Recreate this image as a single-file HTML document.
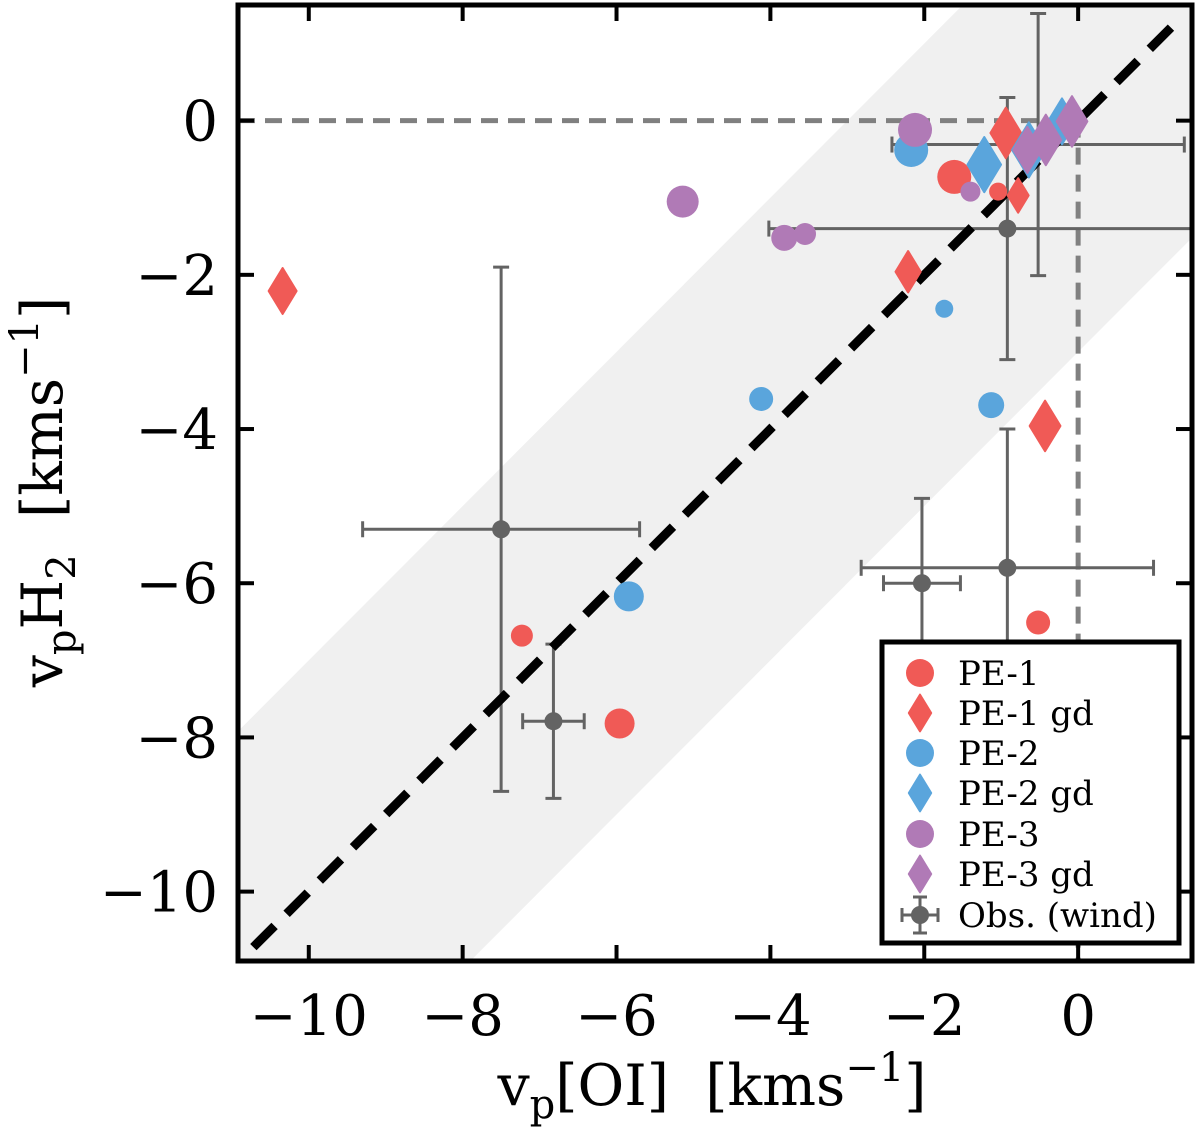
<!DOCTYPE html>
<html><head><meta charset="utf-8">
<style>
html,body{margin:0;padding:0;background:#fff;overflow:hidden;width:1200px;height:1131px;}
svg{display:block;font-family:"DejaVu Serif","Liberation Serif",serif;}
</style></head>
<body>
<svg id="chart" width="1200" height="1131" viewBox="0 0 1200 1131" xmlns="http://www.w3.org/2000/svg">
<g id="plot"></g>
</svg>
<script>
const xTicks=[-10,-8,-6,-4,-2,0];
const yTicks=[0,-2,-4,-6,-8,-10];
const tickLabels=["−10","−8","−6","−4","−2","0"];
const pe1X=[-1.61,-1.04,-0.52,-7.23,-5.96];
const pe1Y=[-0.73,-0.92,-6.51,-6.68,-7.82];
const pe1R=[17,9,12,11,15];
const pe1gdX=[-10.34,-2.21,-0.43,-0.78,-0.94];
const pe1gdY=[-2.21,-1.96,-3.96,-0.97,-0.16];
const pe1gdS=[1,0.9,1.1,0.75,1.1];
const pe2X=[-2.17,-1.74,-4.12,-1.13,-5.84];
const pe2Y=[-0.38,-2.44,-3.61,-3.69,-6.17];
const pe2R=[17,9,12,13,15];
const pe2gdX=[-1.22,-0.64,-0.21];
const pe2gdY=[-0.57,-0.38,-0.01];
const pe2gdS=[1.2,1.2,1.0];
const pe3X=[-2.12,-1.40,-5.14,-3.82,-3.55];
const pe3Y=[-0.12,-0.92,-1.05,-1.52,-1.47];
const pe3R=[17,10,16,13,11];
const pe3gdX=[-0.66,-0.42,-0.08];
const pe3gdY=[-0.38,-0.25,-0.01];
const pe3gdS=[1.0,1.1,1.1];
const obsX=[-0.52,-0.92,-7.5,-6.82,-2.03,-0.92];
const obsY=[-0.31,-1.4,-5.3,-7.79,-6.0,-5.8];
const obsXerr=[1.9,3.1,1.8,0.4,0.5,1.9];
const obsYerr=[1.7,1.7,3.4,1.0,1.1,1.8];
const bandHalf=3;

const L=238,R=1192,T=5,B=961;
const xMin=-10.92,xMax=1.48,yMin=-10.9,yMax=1.5;
const sx=v=>L+(v-xMin)/(xMax-xMin)*(R-L);
const sy=v=>B-(v-yMin)/(yMax-yMin)*(B-T);
const NS="http://www.w3.org/2000/svg";
const svg=document.getElementById('chart');
const plot=document.getElementById('plot');
function mk(tag,attrs,parent){const e=document.createElementNS(NS,tag);for(const k in attrs)e.setAttribute(k,attrs[k]);(parent||svg).appendChild(e);return e;}

const defs=mk('defs',{});
const cp=mk('clipPath',{id:'clip'},defs);
mk('rect',{x:L,y:T,width:R-L,height:B-T},cp);
plot.setAttribute('clip-path','url(#clip)');

const band=mk('polygon',{points:[
 [sx(xMin),sy(xMin+bandHalf)],[sx(xMax),sy(xMax+bandHalf)],[sx(xMax),sy(xMax-bandHalf)],[sx(xMin),sy(xMin-bandHalf)]
].map(p=>p.join(',')).join(' '),fill:'#f0f0f0'},plot);



const hz=mk('line',{x1:L,y1:sy(0),x2:sx(0),y2:sy(0),stroke:'#808080','stroke-width':5,'stroke-dasharray':'17,10'},plot);


const vz=mk('line',{x1:sx(0),y1:sy(0),x2:sx(0),y2:B,stroke:'#808080','stroke-width':5,'stroke-dasharray':'17,10'},plot);



const obsG=mk('g',{},plot);


for(let i=0;i<obsX.length;i++){
 const cx=sx(obsX[i]),cy=sy(obsY[i]);
 const x1=sx(obsX[i]-obsXerr[i]),x2=sx(obsX[i]+obsXerr[i]);
 const y1=sy(obsY[i]+obsYerr[i]),y2=sy(obsY[i]-obsYerr[i]);
 const g=mk('g',{stroke:'#636363','stroke-width':3},obsG);
 
 
 mk('line',{x1:x1,y1:cy,x2:x2,y2:cy},g);
 mk('line',{x1:cx,y1:y1,x2:cx,y2:y2},g);
 mk('line',{x1:x1,y1:cy-8,x2:x1,y2:cy+8},g);
 mk('line',{x1:x2,y1:cy-8,x2:x2,y2:cy+8},g);
 mk('line',{x1:cx-8,y1:y1,x2:cx+8,y2:y1},g);
 mk('line',{x1:cx-8,y1:y2,x2:cx+8,y2:y2},g);
}
const diag=mk('line',{x1:sx(-10.72),y1:sy(-10.72),x2:sx(1.28),y2:sy(1.28),stroke:'#000','stroke-width':9,'stroke-dasharray':'30,17'},plot);



for(let i=0;i<obsX.length;i++){
 const c=mk('circle',{cx:sx(obsX[i]),cy:sy(obsY[i]),r:9,fill:'#636363'},obsG);
 
 
}

function diamond(cx,cy,s,color,parent){
 const w=14*s,h=23*s;
 return mk('polygon',{points:`${cx},${cy-h} ${cx+w},${cy} ${cx},${cy+h} ${cx-w},${cy}`,fill:color,'stroke':color,'stroke-width':2,'stroke-linejoin':'round'},parent);
}
const RED='#f05a56',BLUE='#5aa5dc',PURP='#b07ab6';
function circles(X,Y,Rr,color,name){
 const g=mk('g',{},plot);
 
 
 for(let i=0;i<X.length;i++){
  const c=mk('circle',{cx:sx(X[i]),cy:sy(Y[i]),r:Rr[i],fill:color},g);
  
  
 }
}
function diamonds(X,Y,S,color,name){
 const g=mk('g',{},plot);
 
 
 for(let i=0;i<X.length;i++){
  const d=diamond(sx(X[i]),sy(Y[i]),S[i],color,g);
  
  
 }
}
circles(pe1X,pe1Y,pe1R,RED,'pe-1');
diamonds(pe1gdX,pe1gdY,pe1gdS,RED,'pe-1-gd');
circles(pe2X,pe2Y,pe2R,BLUE,'pe-2');
diamonds(pe2gdX,pe2gdY,pe2gdS,BLUE,'pe-2-gd');
circles(pe3X,pe3Y,pe3R,PURP,'pe-3');
diamonds(pe3gdX,pe3gdY,pe3gdS,PURP,'pe-3-gd');

const axG=mk('g',{stroke:'#000','stroke-width':4});


for(let i=0;i<xTicks.length;i++){
 const x=sx(xTicks[i]);
 mk('line',{x1:x,y1:B,x2:x,y2:B-16},axG);
 mk('line',{x1:x,y1:T,x2:x,y2:T+16},axG);
 const t=mk('text',{x:x,y:1035,'font-size':56,'text-anchor':'middle',fill:'#000'});
 t.textContent=tickLabels[i];
 
 
}
for(let i=0;i<yTicks.length;i++){
 const y=sy(yTicks[i]);
 mk('line',{x1:L,y1:y,x2:L+16,y2:y},axG);
 mk('line',{x1:R,y1:y,x2:R-16,y2:y},axG);
 const t=mk('text',{x:218,y:y+20,'font-size':56,'text-anchor':'end',fill:'#000'});
 t.textContent=(yTicks[i]===0?'0':'−'+Math.abs(yTicks[i]));
 
 
}
const frame=mk('rect',{x:L,y:T,width:R-L,height:B-T,fill:'none',stroke:'#000','stroke-width':5});



const lg=mk('g',{});


mk('rect',{x:882,y:642,width:297,height:301,fill:'#fff',stroke:'#000','stroke-width':5},lg);
const labels=["PE-1","PE-1 gd","PE-2","PE-2 gd","PE-3","PE-3 gd","Obs. (wind)"];
const cols=[RED,RED,BLUE,BLUE,PURP,PURP,'#636363'];
const rowsY=[673,713,753,793,834,874,915];
for(let i=0;i<labels.length;i++){
 const y=rowsY[i],e=mk('g',{},lg);
 
 
 if(i===6){
  const g=mk('g',{stroke:'#636363','stroke-width':3},e);
  mk('line',{x1:902,y1:y,x2:938,y2:y},g);mk('line',{x1:920,y1:y-18,x2:920,y2:y+18},g);
  mk('line',{x1:902,y1:y-7,x2:902,y2:y+7},g);mk('line',{x1:938,y1:y-7,x2:938,y2:y+7},g);
  mk('line',{x1:913,y1:y-18,x2:927,y2:y-18},g);mk('line',{x1:913,y1:y+18,x2:927,y2:y+18},g);
  mk('circle',{cx:920,cy:y,r:9,fill:'#636363'},e);
 } else if(i%2===0) mk('circle',{cx:920,cy:y,r:14,fill:cols[i]},e);
 else diamond(920,y,0.8,cols[i],e);
 const t=mk('text',{x:958,y:y+12,'font-size':34,fill:'#000'},e);
 t.textContent=labels[i];
}

const xt=mk('text',{x:712,y:1105,'font-size':57,'text-anchor':'middle',fill:'#000'});


xt.innerHTML='v<tspan font-size="40" dy="13">p</tspan><tspan dy="-13">[OI]&#160;&#160;[kms</tspan><tspan font-size="40" dy="-24">−1</tspan><tspan dy="24">]</tspan>';
const yt=mk('text',{x:0,y:0,'font-size':57,'text-anchor':'middle',fill:'#000',transform:'translate(62,492) rotate(-90)'});


yt.innerHTML='v<tspan font-size="40" dy="13">p</tspan><tspan dy="-13">H</tspan><tspan font-size="40" dy="13">2</tspan><tspan dy="-13">&#160;&#160;[kms</tspan><tspan font-size="40" dy="-24">−1</tspan><tspan dy="24">]</tspan>';
</script>
</body></html>
